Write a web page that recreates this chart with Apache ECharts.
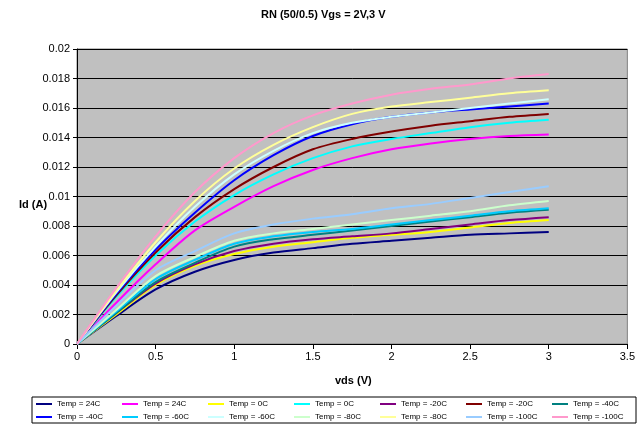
<!DOCTYPE html>
<html>
<head>
<meta charset="utf-8">
<script src="https://cdn.jsdelivr.net/npm/echarts@6/dist/echarts.min.js"></script>
<style>
  html, body { margin: 0; padding: 0; background: #fff; }
  #chart { width: 638px; height: 427px; }
</style>
</head>
<body>
<div id="chart"></div>
<script>
// Drain-source sweep points (V)
const vds = [0, 0.25, 0.5, 0.75, 1.0, 1.25, 1.5, 1.75, 2.0, 2.25, 2.5, 2.75, 3.0];

// Drain current (A), Vgs = 2 V
const id_24C_2V   = [0, 0.0019, 0.0037, 0.0049, 0.0057, 0.0062, 0.0065, 0.0068, 0.0070, 0.0072, 0.0074, 0.0075, 0.0076];
const id_0C_2V    = [0, 0.0020, 0.0040, 0.0053, 0.0061, 0.0066, 0.0069, 0.0072, 0.0074, 0.0076, 0.0079, 0.0082, 0.0084];
const id_m20C_2V  = [0, 0.0021, 0.0041, 0.0054, 0.0063, 0.0068, 0.0071, 0.0073, 0.0075, 0.0078, 0.0081, 0.0084, 0.0086];
const id_m40C_2V  = [0, 0.0021, 0.0042, 0.0055, 0.0066, 0.0071, 0.0074, 0.0077, 0.0080, 0.0083, 0.0086, 0.0089, 0.0091];
const id_m60C_2V  = [0, 0.0022, 0.0044, 0.0057, 0.0068, 0.0073, 0.0076, 0.0078, 0.0081, 0.0084, 0.0087, 0.0090, 0.0092];
const id_m80C_2V  = [0, 0.0023, 0.0046, 0.0059, 0.0070, 0.0075, 0.0078, 0.0081, 0.0084, 0.0087, 0.0090, 0.0094, 0.0097];
const id_m100C_2V = [0, 0.0026, 0.0050, 0.0063, 0.0075, 0.0081, 0.0085, 0.0088, 0.0092, 0.0095, 0.0099, 0.0103, 0.0107];

// Drain current (A), Vgs = 3 V
const id_24C_3V   = [0, 0.0028, 0.0054, 0.0077, 0.0093, 0.0107, 0.0118, 0.0126, 0.0132, 0.0136, 0.0139, 0.0141, 0.0142];
const id_0C_3V    = [0, 0.0032, 0.0060, 0.0083, 0.0101, 0.0115, 0.0126, 0.0134, 0.0139, 0.0143, 0.0147, 0.0150, 0.0152];
const id_m20C_3V  = [0, 0.0033, 0.0062, 0.0086, 0.0105, 0.0120, 0.0132, 0.0139, 0.0144, 0.0148, 0.0151, 0.0154, 0.0156];
const id_m40C_3V  = [0, 0.0034, 0.0064, 0.0089, 0.0111, 0.0128, 0.0141, 0.0149, 0.0154, 0.0157, 0.0159, 0.0161, 0.0163];
const id_m60C_3V  = [0, 0.0035, 0.0066, 0.0093, 0.0115, 0.0131, 0.0143, 0.0150, 0.0154, 0.0157, 0.0160, 0.0163, 0.0166];
const id_m80C_3V  = [0, 0.0036, 0.0069, 0.0097, 0.0119, 0.0135, 0.0147, 0.0156, 0.0161, 0.0164, 0.0167, 0.0170, 0.0172];
const id_m100C_3V = [0, 0.0038, 0.0073, 0.0103, 0.0126, 0.0143, 0.0155, 0.0163, 0.0169, 0.0173, 0.0176, 0.0180, 0.0183];

// Series in plotting / legend order
const seriesNames = [
  'Temp = 24C|2V', 'Temp = 24C|3V', 'Temp = 0C|2V', 'Temp = 0C|3V',
  'Temp = -20C|2V', 'Temp = -20C|3V', 'Temp = -40C|2V', 'Temp = -40C|3V',
  'Temp = -60C|2V', 'Temp = -60C|3V', 'Temp = -80C|2V', 'Temp = -80C|3V',
  'Temp = -100C|2V', 'Temp = -100C|3V'
];
const seriesValues = [
  id_24C_2V, id_24C_3V, id_0C_2V, id_0C_3V,
  id_m20C_2V, id_m20C_3V, id_m40C_2V, id_m40C_3V,
  id_m60C_2V, id_m60C_3V, id_m80C_2V, id_m80C_3V,
  id_m100C_2V, id_m100C_3V
];
const seriesColors = [
  '#000080', '#FF00FF', '#FFFF00', '#00FFFF', '#800080', '#800000', '#008080',
  '#0000FF', '#00CCFF', '#CCFFFF', '#CCFFCC', '#FFFF99', '#99CCFF', '#FF99CC'
];

// Axis ticks
const yTicks = ['0', '0.002', '0.004', '0.006', '0.008', '0.01', '0.012', '0.014', '0.016', '0.018', '0.02'];
const xTicks = ['0', '0.5', '1', '1.5', '2', '2.5', '3', '3.5'];

const FONT = 'Arial, "Liberation Sans", sans-serif';

const chart = echarts.init(document.getElementById('chart'), null, { renderer: 'canvas' });

const series = seriesNames.map((name, i) => ({
  name: name,
  type: 'line',
  data: vds.map((x, j) => [x, seriesValues[i][j]]),
  smooth: 0.3,
  showSymbol: false,
  symbol: 'none',
  lineStyle: { color: seriesColors[i], width: 2 },
  itemStyle: { color: seriesColors[i] },
  emphasis: { disabled: true },
  z: 3 + i
}));

chart.setOption({
  backgroundColor: '#ffffff',
  animation: false,
  textStyle: { fontFamily: FONT },
  grid: {
    left: 77, right: 8, top: 49, bottom: 83,
    show: true, backgroundColor: '#C0C0C0', borderColor: '#808080', borderWidth: 1
  },
  xAxis: {
    type: 'value', min: 0, max: 3.5, interval: 0.5,
    axisLine: { show: true, lineStyle: { color: '#000', width: 1 } },
    axisTick: { show: true, length: 5, lineStyle: { color: '#000' } },
    splitLine: { show: false },
    axisLabel: {
      color: '#000', fontSize: 11, fontFamily: FONT, margin: 7,
      formatter: (v) => xTicks[Math.round(v / 0.5)]
    }
  },
  yAxis: {
    type: 'value', min: 0, max: 0.02, interval: 0.002,
    axisLine: { show: true, lineStyle: { color: '#000', width: 1 } },
    axisTick: { show: true, length: 4, lineStyle: { color: '#000' } },
    splitLine: { show: true, lineStyle: { color: '#000', width: 1 } },
    axisLabel: {
      color: '#000', fontSize: 11, fontFamily: FONT, margin: 7,
      formatter: (v) => yTicks[Math.round(v / 0.002)]
    }
  },
  legend: {
    data: seriesNames,
    left: 32, top: 397,
    width: 600,
    padding: [2, 1, 1, 4],
    borderColor: '#000', borderWidth: 1,
    itemWidth: 16, itemHeight: 2, itemGap: 3,
    icon: 'rect',
    selectedMode: false,
    formatter: (name) => name.split('|')[0],
    textStyle: { color: '#000', fontSize: 8, fontFamily: FONT, width: 62, lineHeight: 10 }
  },
  graphic: [
    {
      type: 'text', left: 261, top: 9,
      style: { text: 'RN (50/0.5) Vgs = 2V,3 V', font: 'bold 11px ' + FONT, fill: '#000' }
    },
    {
      type: 'text', left: 19, top: 199,
      style: { text: 'Id (A)', font: 'bold 11px ' + FONT, fill: '#000' }
    },
    {
      type: 'text', left: 335, top: 375,
      style: { text: 'vds (V)', font: 'bold 11px ' + FONT, fill: '#000' }
    }
  ],
  series: series
});
</script>
</body>
</html>
